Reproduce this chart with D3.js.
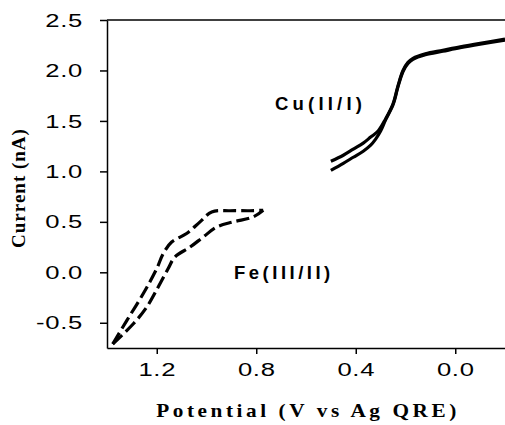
<!DOCTYPE html>
<html>
<head>
  <meta charset="utf-8" />
  <script src="https://d3js.org/d3.v7.min.js"></script>
</head>
<style>
body { margin: 0; background: #fff; }
.tick text { font-family: "Liberation Sans", Arial, sans-serif; font-size: 19px; letter-spacing: 0.5px; fill: #000; }
</style>
<body>
<div id="viz"></div>
<script>
'use strict';

// [potential (V), current (nA)]
const cuForward = [
  [0.50, 1.10], [0.45, 1.16], [0.41, 1.22], [0.37, 1.28], [0.34, 1.34], [0.31, 1.40],
  [0.28, 1.52], [0.25, 1.67], [0.23, 1.85], [0.21, 2.00], [0.19, 2.08], [0.17, 2.12],
  [0.12, 2.165], [0.05, 2.20], [-0.02, 2.235], [-0.10, 2.27], [-0.20, 2.31]
];
const cuReverse = [
  [0.50, 1.01], [0.45, 1.08], [0.41, 1.14], [0.37, 1.20], [0.34, 1.26], [0.32, 1.32],
  [0.30, 1.40], [0.28, 1.51], [0.25, 1.66], [0.23, 1.84], [0.21, 1.99], [0.19, 2.07],
  [0.17, 2.11], [0.12, 2.155], [0.05, 2.19], [-0.02, 2.225], [-0.10, 2.26], [-0.20, 2.30]
];
const feOuter = [
  [1.377, -0.71], [1.32, -0.476], [1.254, -0.21], [1.20, 0.037], [1.174, 0.186],
  [1.14, 0.30], [1.08, 0.384], [1.026, 0.50], [0.979, 0.598], [0.905, 0.61],
  [0.825, 0.61], [0.772, 0.615]
];
const feInner = [
  [1.377, -0.71], [1.294, -0.51], [1.24, -0.344], [1.194, -0.145], [1.154, 0.037],
  [1.127, 0.152], [1.066, 0.25], [1.013, 0.35], [0.959, 0.449], [0.892, 0.50],
  [0.812, 0.549], [0.772, 0.615]
];
const xTicks = [1.2, 0.8, 0.4, 0.0];
const yTicks = [-0.5, 0.0, 0.5, 1.0, 1.5, 2.0, 2.5];

const width = 505, height = 425;
const plotLeft = 107, plotRight = 505, plotTop = 20, plotBottom = 348;
const stretch = 1.35; // tick labels are drawn wide in the original

const svg = d3.select('#viz').append('svg')
  .attr('width', width)
  .attr('height', height);

const x = d3.scaleLinear().domain([1.4, -0.2]).range([plotLeft, plotRight]);
const y = d3.scaleLinear().domain([-0.75, 2.5]).range([plotBottom, plotTop]);

const fmt = d => d3.format('.1f')(d).replace('−', '-');

svg.append('g')
  .attr('transform', 'translate(0,' + plotBottom + ')')
  .call(d3.axisBottom(x).tickValues(xTicks).tickFormat(fmt).tickSize(6).tickPadding(8.5).tickSizeOuter(0))
  .selectAll('.tick text')
    .attr('transform', 'scale(' + stretch + ',1)');

svg.append('g')
  .attr('transform', 'translate(' + plotLeft + ',0)')
  .call(d3.axisLeft(y).tickValues(yTicks).tickFormat(fmt).tickSize(7).tickPadding(16).tickSizeOuter(0))
  .selectAll('.tick text')
    .attr('x', -24 / stretch)
    .attr('transform', 'scale(' + stretch + ',1)');

svg.selectAll('.domain, .tick line').attr('stroke', '#000').attr('stroke-width', 1.5);

// top frame line
svg.append('line')
  .attr('x1', plotLeft).attr('x2', plotRight).attr('y1', plotTop).attr('y2', plotTop)
  .attr('stroke', '#000').attr('stroke-width', 1.5);

const line = d3.line()
  .x(d => x(d[0]))
  .y(d => y(d[1]))
  .curve(d3.curveCatmullRom);

[cuForward, cuReverse].forEach(d => {
  svg.append('path').datum(d)
    .attr('d', line)
    .attr('fill', 'none').attr('stroke', '#000').attr('stroke-width', 3.2);
});

[feOuter, feInner].forEach(d => {
  svg.append('path').datum(d)
    .attr('d', line)
    .attr('fill', 'none').attr('stroke', '#000').attr('stroke-width', 3.2)
    .attr('stroke-dasharray', '13,5');
});

const labelFont = '"Liberation Sans", Arial, sans-serif';
svg.append('text')
  .attr('x', 275).attr('y', 109.5)
  .style('font-family', labelFont).style('font-weight', 'bold')
  .style('font-size', '18.5px').style('letter-spacing', '4.2px')
  .text('Cu(II/I)');
svg.append('text')
  .attr('x', 234).attr('y', 278.5)
  .style('font-family', labelFont).style('font-weight', 'bold')
  .style('font-size', '18.5px').style('letter-spacing', '3.5px')
  .text('Fe(III/II)');

const titleFont = '"Liberation Serif", "Times New Roman", serif';
svg.append('text')
  .attr('transform', 'translate(308,417) scale(1.15,1)')
  .attr('text-anchor', 'middle')
  .style('font-family', titleFont).style('font-weight', 'bold')
  .style('font-size', '18.5px').style('letter-spacing', '3.1px')
  .text('Potential (V vs Ag QRE)');
svg.append('text')
  .attr('transform', 'translate(24.5,188) rotate(-90)')
  .attr('text-anchor', 'middle')
  .style('font-family', titleFont).style('font-weight', 'bold')
  .style('font-size', '19px').style('letter-spacing', '1px')
  .text('Current (nA)');
</script>
</body>
</html>
